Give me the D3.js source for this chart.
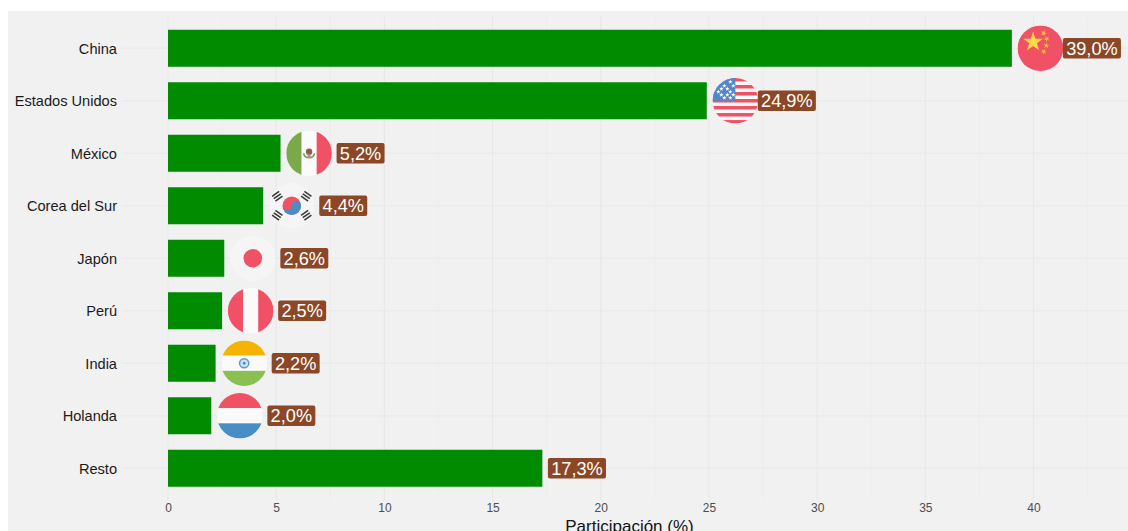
<!DOCTYPE html>
<html>
<head>
<meta charset="utf-8">
<script src="https://cdnjs.cloudflare.com/ajax/libs/d3/7.8.5/d3.min.js"></script>
<style>
html, body { margin: 0; padding: 0; background: #fff; overflow: hidden; }
svg { display: block; font-family: "Liberation Sans", Arial, sans-serif; }
</style>
</head>
<body>
<svg id="chart" width="1128" height="531"></svg>
<script>
var countries = ["China", "Estados Unidos", "México", "Corea del Sur", "Japón", "Perú", "India", "Holanda", "Resto"];
var shares = [39.0, 24.9, 5.2, 4.4, 2.6, 2.5, 2.2, 2.0, 17.3];
var flags = ["cn", "us", "mx", "kr", "jp", "pe", "in", "nl", null];
var xTicks = [0, 5, 10, 15, 20, 25, 30, 35, 40];
var xMinor = [2.5, 7.5, 12.5, 17.5, 22.5, 27.5, 32.5, 37.5, 42.5];

var red = "#f15165", white = "#fafafa", pale = "#f5f5f5", blue = "#488dc4", green = "#7ba84a";

var svg = d3.select("#chart");

var panel = {left: 122, right: 1135, top: 16.5, bottom: 500};
var x = d3.scaleLinear().domain([0, 40]).range([168, 1033.5]);
var y = d3.scaleBand().domain(countries)
	.range([16.5, 500])
	.paddingInner(0.295)
	.paddingOuter(0.2525);

// background
svg.append("rect").attr("x", 8).attr("y", 11).attr("width", 1120).attr("height", 520).attr("fill", "#f1f1f1");

// grid
var grid = svg.append("g").attr("fill", "none");
grid.selectAll(".minor").data(xMinor).enter().append("line")
	.attr("x1", d => x(d)).attr("x2", d => x(d))
	.attr("y1", panel.top).attr("y2", panel.bottom)
	.attr("stroke", "#ebebeb").attr("stroke-width", 0.6);
grid.selectAll(".major").data(xTicks).enter().append("line")
	.attr("x1", d => x(d)).attr("x2", d => x(d))
	.attr("y1", panel.top).attr("y2", panel.bottom)
	.attr("stroke", "#e8e8e8").attr("stroke-width", 1.1);
grid.selectAll(".hmajor").data(countries).enter().append("line")
	.attr("x1", panel.left).attr("x2", panel.right)
	.attr("y1", d => y(d) + y.bandwidth() / 2).attr("y2", d => y(d) + y.bandwidth() / 2)
	.attr("stroke", "#e8e8e8").attr("stroke-width", 1.1);

// axes
var xAxis = d3.axisBottom(x).tickValues(xTicks).tickSize(0).tickPadding(0).tickFormat(d3.format("d"));
var gx = svg.append("g").attr("transform", "translate(0,503)").call(xAxis);
gx.select(".domain").remove();
gx.selectAll("text").attr("fill", "#4d4d4d").style("font-size", "12px").style("font-family", "inherit");

var yAxis = d3.axisLeft(y).tickSize(0).tickPadding(0);
var gy = svg.append("g").attr("transform", "translate(117,0.7)").call(yAxis);
gy.select(".domain").remove();
gy.selectAll("text").attr("fill", "#1a1a1a").style("font-size", "14.6px").style("font-family", "inherit");

svg.append("text")
	.attr("x", 629.5).attr("y", 532)
	.attr("text-anchor", "middle").attr("fill", "#111")
	.style("font-size", "17px")
	.text("Participación (%)");

// bars
svg.selectAll(".bar").data(countries).enter().append("rect")
	.attr("class", "bar")
	.attr("x", x(0))
	.attr("y", d => y(d))
	.attr("width", (d, i) => x(shares[i]) - x(0))
	.attr("height", y.bandwidth())
	.attr("fill", "#008b00");

// flags, drawn on a radius of 22.8 around the circle centre
var R = 22.8;
var defs = svg.append("defs");
defs.append("clipPath").attr("id", "flagClip").append("circle").attr("r", R);

function star(g, cx, cy, size, fill, rot) {
	g.append("path")
		.attr("d", d3.symbol().type(d3.symbolStar).size(size)())
		.attr("transform", "translate(" + cx + "," + cy + ") rotate(" + (rot || 0) + ")")
		.attr("fill", fill);
}
function band(g, x0, y0, w, h, fill) {
	g.append("rect").attr("x", x0).attr("y", y0).attr("width", w).attr("height", h).attr("fill", fill);
}
function vertical(g, a, b, c) {
	band(g, -R, -R, R * 2 / 3 + 0.4, R * 2, a);
	band(g, -R / 3, -R, R * 2 / 3, R * 2, b);
	band(g, R / 3, -R, R * 2 / 3, R * 2, c);
}
function horizontal(g, a, b, c) {
	band(g, -R, -R, R * 2, R * 2 / 3, a);
	band(g, -R, -R / 3, R * 2, R * 2 / 3, b);
	band(g, -R, R / 3, R * 2, R * 2 / 3, c);
}

var drawFlag = {
	cn: function(g) {
		band(g, -R, -R, R * 2, R * 2, red);
		star(g, -7.3, -6.3, 120, "#ffda44");
		[[3.3, -15, 20], [6.3, -9.3, 45], [6, -2.7, 10], [3.3, 3.3, 30]].forEach(function(s) {
			star(g, s[0], s[1], 11, "#fbc13c", s[2]);
		});
	},
	us: function(g) {
		band(g, -R, -R, R * 2, R * 2, white);
		d3.range(0, 13, 2).forEach(function(i) {
			band(g, -R, -R + i * R * 2 / 13, R * 2, R * 2 / 13, red);
		});
		band(g, -R, -R, R, R, "#5288c8");
		[[-17, -9], [-11, -15], [-11, -3], [-5, -19], [-5, -9], [-5, -3], [-14, -6], [-8, -12], [-8, -6], [-2, -15], [-2, -6], [-14, -12]].forEach(function(s) {
			star(g, s[0], s[1], 6, "#fff");
		});
	},
	mx: function(g) {
		vertical(g, green, white, red);
		g.append("circle").attr("cy", -1.5).attr("r", 3.2).attr("fill", "#8a6240");
		g.append("path").attr("d", "M-5.5,0A5.6,5.6 0 0 0 5.5,0").attr("fill", "none").attr("stroke", "#6f9e58").attr("stroke-width", 1.5);
		g.append("circle").attr("cy", 2.8).attr("r", 1.7).attr("fill", "#d9828c");
		g.append("circle").attr("cx", -1.5).attr("cy", 0.6).attr("r", 1).attr("fill", "#5d8fb5");
	},
	kr: function(g) {
		band(g, -R, -R, R * 2, R * 2, pale);
		var r = 9.3;
		g.append("circle").attr("r", r).attr("fill", red);
		g.append("path")
			.attr("d", "M" + -r + ",0A" + r + "," + r + " 0 0 0 " + r + ",0A" + r / 2 + "," + r / 2 + " 0 0 0 0,0A" + r / 2 + "," + r / 2 + " 0 0 1 " + -r + ",0Z")
			.attr("fill", blue);
		[[-14.5, -9.5, 55], [14.5, -9.5, -55], [-14.5, 9.5, -55], [14.5, 9.5, 55]].forEach(function(t) {
			var tri = g.append("g").attr("transform", "translate(" + t[0] + "," + t[1] + ") rotate(" + t[2] + ")");
			[-2.9, 0, 2.9].forEach(function(dx) {
				band(tri, dx - 0.8, -4.3, 1.6, 8.6, "#3a3a3a");
			});
		});
	},
	jp: function(g) {
		band(g, -R, -R, R * 2, R * 2, pale);
		g.append("circle").attr("r", 9.3).attr("fill", red);
	},
	pe: function(g) {
		vertical(g, red, white, red);
	},
	in: function(g) {
		horizontal(g, "#f4b400", white, "#8abf52");
		g.append("circle").attr("r", 4.6).attr("fill", "#cfe2f0").attr("stroke", "#5b9bcb").attr("stroke-width", 1.5);
		g.append("circle").attr("r", 1.4).attr("fill", "#488dc4");
	},
	nl: function(g) {
		horizontal(g, red, white, blue);
	}
};

countries.forEach(function(c, i) {
	if (!flags[i]) return;
	var g = svg.append("g")
		.attr("transform", "translate(" + (x(shares[i] + 1.32)) + "," + (y(c) + y.bandwidth() / 2) + ")")
		.attr("clip-path", "url(#flagClip)");
	drawFlag[flags[i]](g);
});

// value labels, the ones with a flag sit further out
var fmt = d => d3.format(".1f")(d).replace(".", ",") + "%";
countries.forEach(function(c, i) {
	var cx = x(shares[i] + (flags[i] ? 3.7 : 1.6)), cy = y(c) + y.bandwidth() / 2;
	var g = svg.append("g");
	var box = g.append("rect").attr("fill", "#8b4726").attr("rx", 2).attr("ry", 2);
	var t = g.append("text")
		.attr("x", cx).attr("y", cy + 6.4)
		.attr("text-anchor", "middle").attr("fill", "#fff")
		.style("font-size", "18.2px")
		.text(fmt(shares[i]));
	var w = t.node().getComputedTextLength() + 6.5;
	box.attr("x", cx - w / 2).attr("y", cy - 10.3).attr("width", w).attr("height", 20.6);
});
</script>
</body>
</html>
